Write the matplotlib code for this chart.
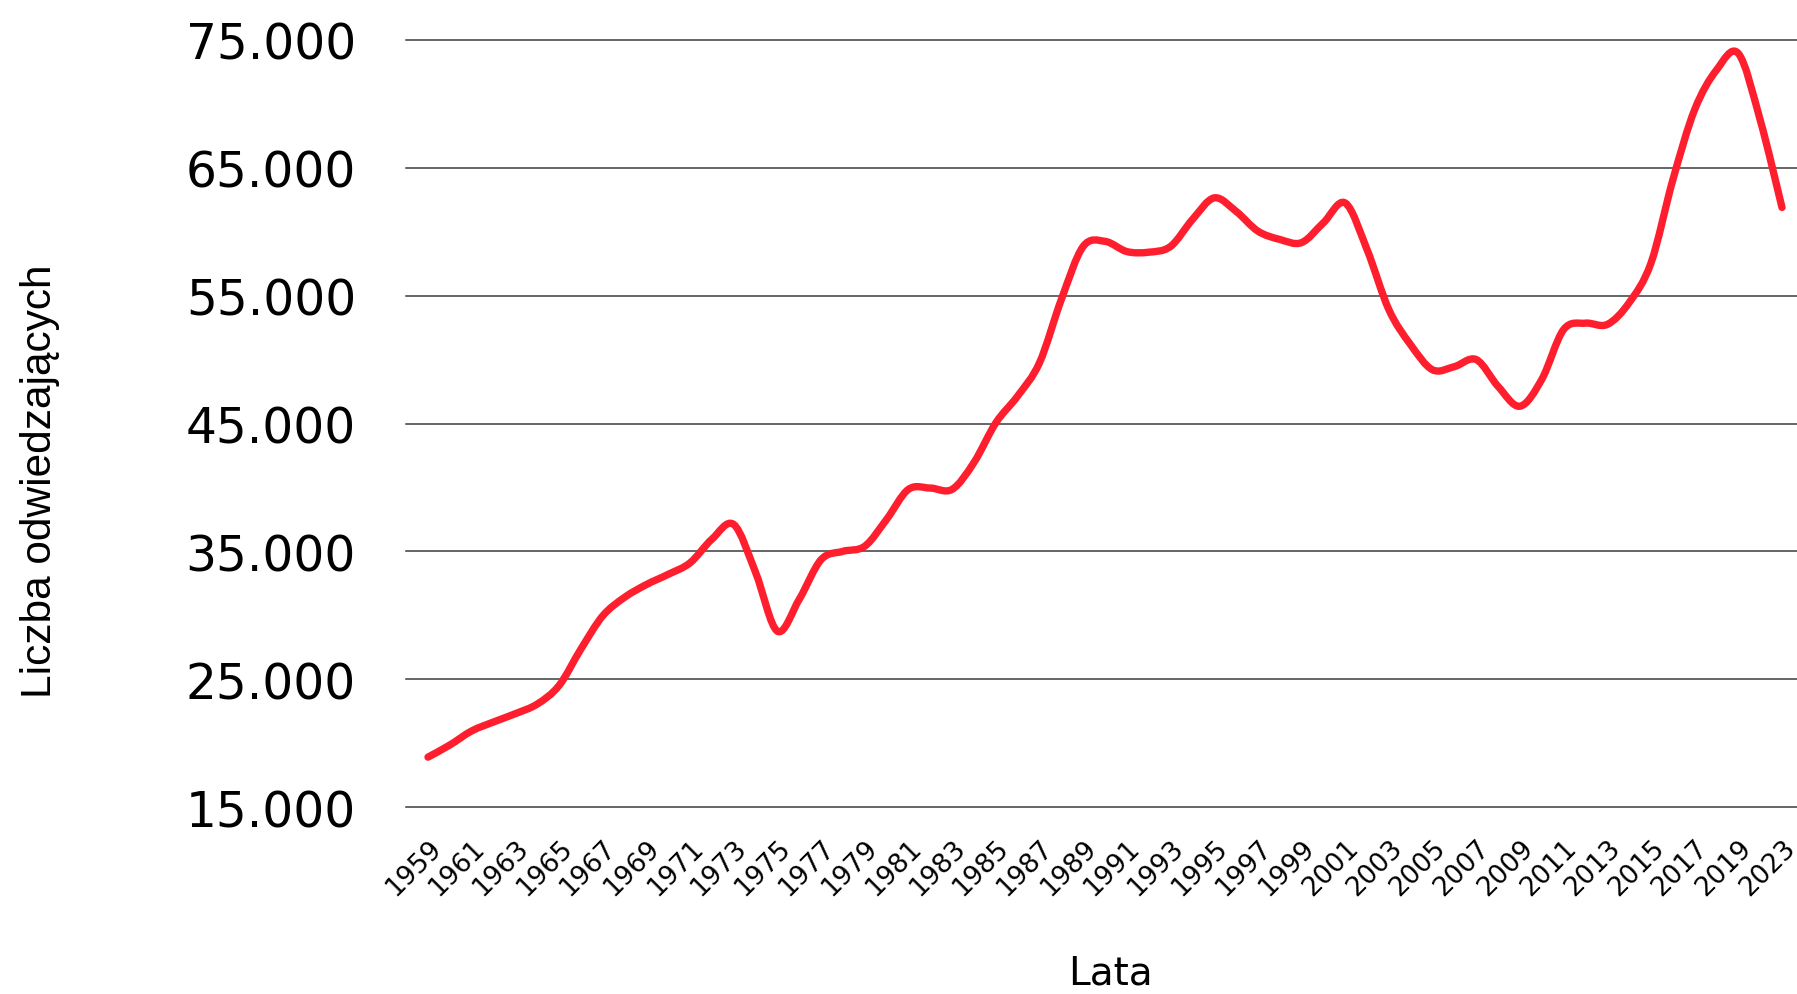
import numpy as np
import matplotlib
matplotlib.use("Agg")
import matplotlib.pyplot as plt
from matplotlib.path import Path
from matplotlib.patches import PathPatch
from matplotlib.ticker import FuncFormatter

# categories: 1959-2019, then 2022 and 2023 (2020-2021 missing)
years = list(range(1959, 2020)) + [2022, 2023]
visitors = [
    18900, 19850, 20950, 21650, 22300, 23050, 24500, 27350, 29950, 31400,   # 1959-1968
    32400, 33200, 34100, 35950, 37100, 33350, 28750, 31250, 34350, 35000,   # 1969-1978
    35400, 37500, 39850, 39950, 39850, 41950, 45050, 47150, 49750, 54700,   # 1979-1988
    58850, 59250, 58450, 58400, 58850, 60950, 62650, 61600, 60050, 59400,   # 1989-1998
    59150, 60700, 62250, 58600, 53900, 51150, 49200, 49450, 50000, 47900,   # 1999-2008
    46350, 48450, 52350, 52850, 52750, 54450, 57550, 64050, 69550, 72650,   # 2009-2018
    73950, 68750, 61900,                                                    # 2019, 2022, 2023
]
y_ticks = [15000, 25000, 35000, 45000, 55000, 65000, 75000]

LINE_RED = "#FF1E2D"
GRID_COL = "#3c3c3c"

fig = plt.figure(figsize=(17.97, 9.95), dpi=100)
ax = fig.add_axes([406 / 1797, 1 - 808 / 995, 1 - 406 / 1797, (808 - 41) / 995])

# smoothed line (Excel-style): cubic Bezier through every category point
pts = np.column_stack([np.arange(len(visitors)), np.array(visitors, float)])
n = len(pts)
verts = [tuple(pts[0])]
codes = [Path.MOVETO]
for i in range(n - 1):
    p0 = pts[max(i - 1, 0)]
    p1 = pts[i]
    p2 = pts[i + 1]
    p3 = pts[min(i + 2, n - 1)]
    c1 = p1 + (p2 - p0) / 6.0
    c2 = p2 - (p3 - p1) / 6.0
    verts += [tuple(c1), tuple(c2), tuple(p2)]
    codes += [Path.CURVE4] * 3
curve = PathPatch(Path(verts, codes), fill=False, edgecolor=LINE_RED,
                  linewidth=5.3, capstyle="round", joinstyle="round", zorder=3)
ax.add_patch(curve)

px_per_cat = (1782 - 428) / (n - 1)
ax.set_xlim(-22 / px_per_cat, (n - 1) + 15 / px_per_cat)
ax.set_ylim(15000, 75000)

ax.set_yticks(y_ticks)
ax.yaxis.set_major_formatter(FuncFormatter(lambda v, _: f"{v:,.0f}".replace(",", ".")))
ax.tick_params(axis="y", length=0, pad=36, labelsize=35)
for lab in ax.get_yticklabels():
    lab.set_fontfamily("DejaVu Sans")

ax.set_xticks(np.arange(0, n, 2))
ax.set_xticklabels([str(y) for y in years[::2]])
ax.tick_params(axis="x", length=0, pad=20, labelsize=19)
plt.setp(ax.get_xticklabels(), rotation=45, ha="right", va="top", rotation_mode="anchor")

ax.grid(True, axis="y", color=GRID_COL, linewidth=1.1)
for gl in ax.get_ygridlines():
    gl.set_clip_on(False)
ax.set_axisbelow(True)
for s in ax.spines.values():
    s.set_visible(False)

fig.text(1110 / 1797, 1 - 985 / 995, "Lata", fontsize=28, ha="center", va="baseline",
         family="DejaVu Sans")
fig.text(40 / 1797, 1 - 481 / 995, "Liczba odwiedzających", fontsize=30.5, rotation=90,
         ha="center", va="center", family="Liberation Sans")

fig.savefig("out.png", dpi=100, facecolor="white")
